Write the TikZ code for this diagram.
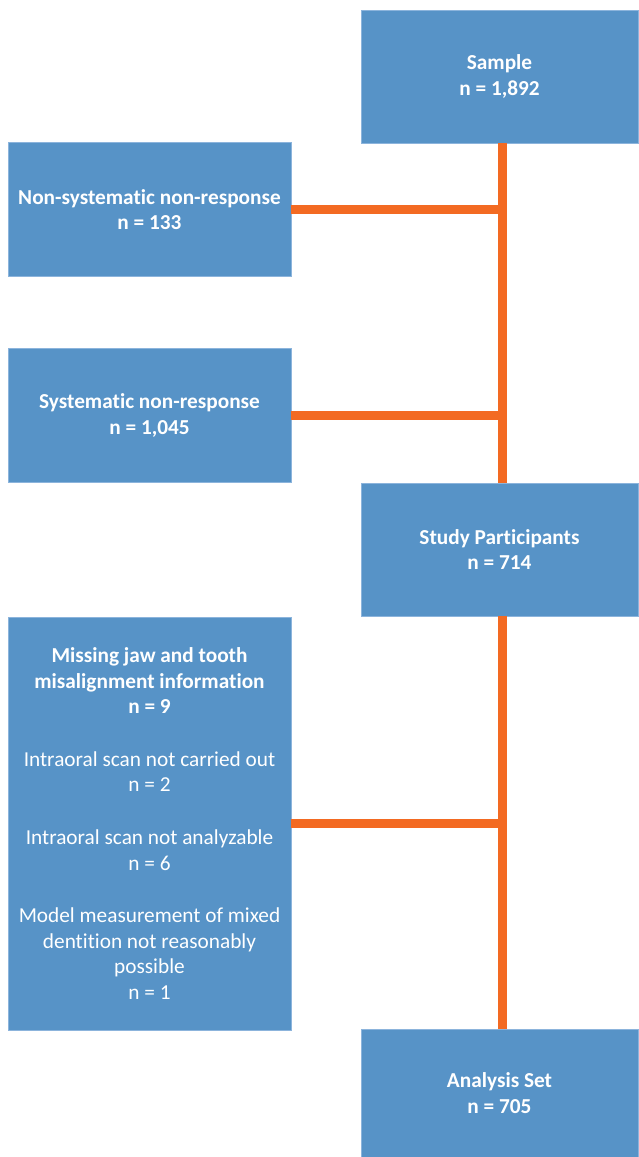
\documentclass[tikz,border=0pt]{standalone}
\usepackage{fontspec}
\setmainfont[Ligatures=NoCommon]{Carlito}
\definecolor{boxblue}{RGB}{87,147,199}
\definecolor{boxedge}{RGB}{140,180,220}
\definecolor{linkorange}{RGB}{243,106,34}
\begin{document}
\begin{tikzpicture}[x=1pt,y=-1pt,
  flowbox/.style={fill=boxblue,draw=boxedge,line width=0.8pt,text=white,
    align=center,inner sep=0pt,font=\fontsize{21.3}{25.6}\selectfont},
  conn/.style={draw=linkorange,line width=9pt}]
\useasboundingbox[fill=white] (0,0) rectangle (638,1157);
\coordinate (spine) at (502,0);
\node[flowbox,minimum width=277pt,minimum height=133pt] (sample) at (499.5,76.5)
  {\textbf{Sample}\\\textbf{n = 1,892}};
\node[flowbox,minimum width=283pt,minimum height=134pt] (nonsys) at (149.5,209.5)
  {\textbf{Non-systematic non-response}\\\textbf{n = 133}};
\node[flowbox,minimum width=283pt,minimum height=134pt] (sys) at (149.5,415.5)
  {\textbf{Systematic non-response}\\\textbf{n = 1,045}};
\node[flowbox,minimum width=277pt,minimum height=133pt] (study) at (499.5,549.5)
  {\textbf{Study Participants}\\\textbf{n = 714}};
\node[flowbox,minimum width=283pt,minimum height=413pt] (missing) at (149.5,823.5)
  {\textbf{Missing jaw and tooth}\\\textbf{misalignment information}\\\textbf{n = 9}\\[27pt]
   Intraoral scan not carried out\\n = 2\\[27pt]
   Intraoral scan not analyzable\\n = 6\\[27pt]
   Model measurement of mixed\\dentition not reasonably\\possible\\n = 1};
\node[flowbox,minimum width=277pt,minimum height=128pt] (analysis) at (499.5,1093)
  {\textbf{Analysis Set}\\\textbf{n = 705}};
\draw[conn] (sample.south -| spine) -- (study.north -| spine);
\draw[conn] (study.south -| spine) -- (analysis.north -| spine);
\draw[conn] (nonsys.east) -- (nonsys.east -| spine);
\draw[conn] (sys.east) -- (sys.east -| spine);
\draw[conn] (missing.east) -- (missing.east -| spine);
\end{tikzpicture}
\end{document}
